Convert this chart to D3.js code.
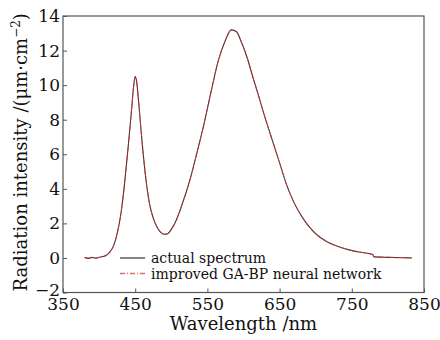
<!DOCTYPE html>
<html>
<head>
<meta charset="utf-8">
<script src="https://cdn.jsdelivr.net/npm/d3@7"></script>
<style>
  body { margin: 0; background: #fff; }
  svg text { font-family: "DejaVu Serif", serif; fill: #111; }
</style>
</head>
<body>
<div id="main"></div>
<script>
// data
const wavelength = [380, 385, 390, 395, 400, 405, 410, 415, 420, 425, 430, 435, 440, 445, 448, 450, 452, 455, 460, 465, 470, 475, 480, 485, 490, 495, 500, 507, 515, 525, 535, 545, 555, 565, 575, 583, 590, 597, 605, 612, 620, 630, 640, 650, 660, 670, 680, 690, 700, 715, 730, 745, 760, 775, 779, 781, 800, 820, 833];
const actual = [0.02, -0.03, 0.03, -0.02, 0.04, 0.08, 0.16, 0.35, 0.7, 1.4, 2.5, 4.2, 6.3, 8.6, 10.0, 10.5, 10.2, 8.9, 6.5, 4.5, 3.1, 2.3, 1.8, 1.5, 1.37, 1.4, 1.65, 2.2, 3.1, 4.4, 6.0, 7.7, 9.6, 11.4, 12.6, 13.2, 13.1, 12.5, 11.6, 10.6, 9.5, 8.1, 6.8, 5.5, 4.2, 3.2, 2.45, 1.85, 1.4, 0.95, 0.68, 0.48, 0.34, 0.24, 0.2, 0.06, 0.03, 0.01, 0.0];
const predicted = [0.01, 0.0, 0.01, 0.01, 0.03, 0.07, 0.15, 0.34, 0.7, 1.4, 2.5, 4.2, 6.3, 8.6, 10.0, 10.5, 10.2, 8.9, 6.5, 4.5, 3.1, 2.3, 1.8, 1.5, 1.37, 1.4, 1.65, 2.2, 3.1, 4.4, 6.0, 7.7, 9.6, 11.4, 12.6, 13.2, 13.1, 12.5, 11.6, 10.6, 9.5, 8.1, 6.8, 5.5, 4.2, 3.2, 2.45, 1.85, 1.4, 0.95, 0.68, 0.48, 0.34, 0.24, 0.2, 0.08, 0.04, 0.02, 0.01];
const xTicks = [350, 450, 550, 650, 750, 850];
const yTicks = [-2, 0, 2, 4, 6, 8, 10, 12, 14];
const seriesNames = ["actual spectrum", "improved GA-BP neural network"];

const W = 440, H = 340;
const m = { left: 63, right: 16, top: 16, bottom: 47.5 };

const svg = d3.select("#main").append("svg")
    .attr("width", W)
    .attr("height", H);

const x = d3.scaleLinear().domain([350, 850]).range([m.left, W - m.right]);
const y = d3.scaleLinear().domain([-2, 14]).range([H - m.bottom, m.top]);

// frame
svg.append("rect")
    .attr("x", x(350))
    .attr("y", y(14))
    .attr("width", x(850) - x(350))
    .attr("height", y(-2) - y(14))
    .style("fill", "none")
    .style("stroke", "#555")
    .style("stroke-width", 1.2);

// axes, ticks pointing inward
const xAxis = svg.append("g")
    .attr("transform", `translate(0,${y(-2)})`)
    .call(d3.axisBottom(x).tickValues(xTicks).tickSizeInner(-4).tickSizeOuter(0));
xAxis.select(".domain").remove();
xAxis.selectAll("line").style("stroke", "#555");
xAxis.selectAll("text")
    .style("font-size", "17px")
    .attr("dy", "0.72em")
    .attr("y", 5);

const yAxis = svg.append("g")
    .attr("transform", `translate(${x(350)},0)`)
    .call(d3.axisLeft(y).tickValues(yTicks).tickSizeInner(-4).tickSizeOuter(0)
        .tickFormat(d => d < 0 ? "\u2212" + Math.abs(d) : d));
yAxis.select(".domain").remove();
yAxis.selectAll("line").style("stroke", "#555");
yAxis.selectAll("text")
    .style("font-size", "17px")
    .attr("x", -3)
    .attr("dy", d => d < 0 ? "0.2em" : "0.32em");

// axis titles
svg.append("text")
    .attr("x", (x(350) + x(850)) / 2)
    .attr("y", 330)
    .attr("text-anchor", "middle")
    .style("font-size", "18px")
    .text("Wavelength /nm");

const yt = svg.append("text")
    .attr("transform", `translate(27,${(y(-2) + y(14)) / 2 - 2}) rotate(-90)`)
    .attr("text-anchor", "middle")
    .style("font-size", "18px");
yt.append("tspan").text("Radiation intensity /(\u03bcm\u00b7cm");
yt.append("tspan").attr("dy", -7).style("font-size", "12px").text("\u22122");
yt.append("tspan").attr("dy", 7).text(")");

// curves
const line = d3.line()
    .x((d, i) => x(wavelength[i]))
    .y(d => y(d))
    .curve(d3.curveMonotoneX);

svg.append("path")
    .datum(actual)
    .attr("d", line)
    .style("fill", "none")
    .style("stroke", "#333")
    .style("stroke-width", 1.1);

svg.append("path")
    .datum(predicted)
    .attr("d", line)
    .style("fill", "none")
    .style("stroke", "#e8302e")
    .style("stroke-width", 0.9)
    .style("stroke-dasharray", "5,2,1,2");

// legend
const legend = svg.append("g");
const legendStyles = [
    { stroke: "#666", dash: null, w: 1.6 },
    { stroke: "#e07070", dash: "5,2,1,2", w: 1.3 }
];
seriesNames.forEach((name, i) => {
    const ly = 258 + i * 15.5;
    legend.append("line")
        .attr("x1", 120).attr("x2", 145)
        .attr("y1", ly).attr("y2", ly)
        .style("stroke", legendStyles[i].stroke)
        .style("stroke-width", legendStyles[i].w)
        .style("stroke-dasharray", legendStyles[i].dash);
    legend.append("text")
        .attr("x", 151)
        .attr("y", ly + 5)
        .style("font-size", "14px")
        .text(name);
});
</script>
</body>
</html>
